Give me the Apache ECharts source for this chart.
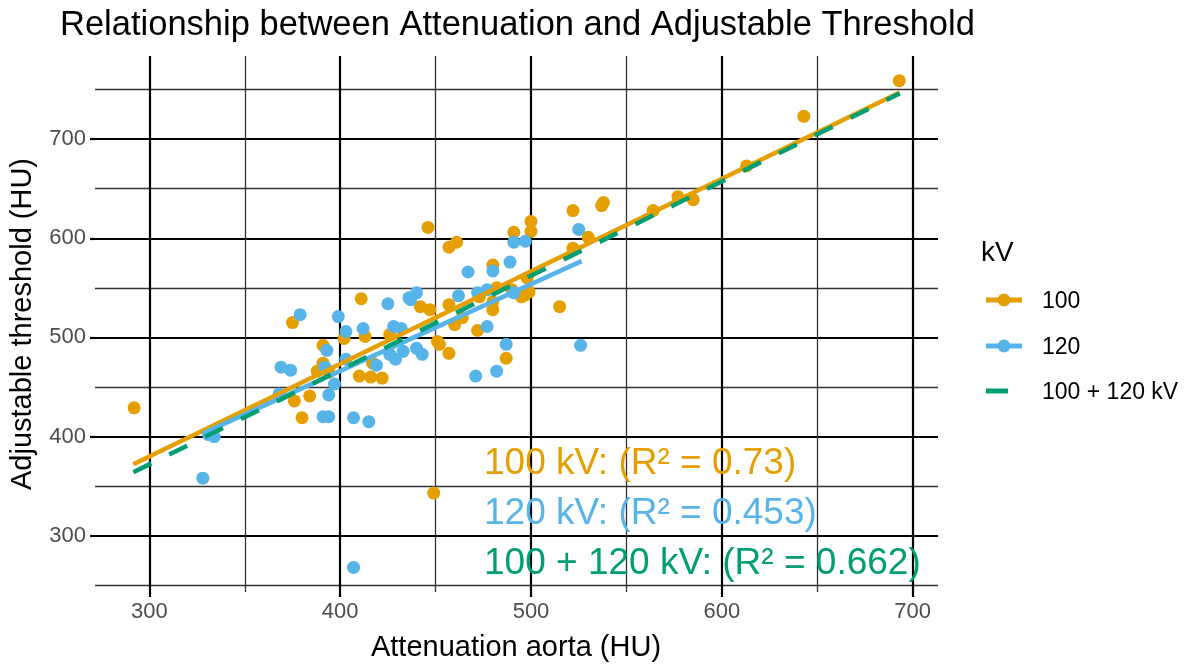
<!DOCTYPE html>
<html>
<head>
<meta charset="utf-8">
<script src="https://cdn.jsdelivr.net/npm/echarts@6/dist/echarts.min.js"></script>
<style>
  html, body { margin: 0; padding: 0; background: #fff; }
  #chart { width: 1185px; height: 664px; }
</style>
</head>
<body>
<div id="chart"></div>
<script>
// 100 kV points (attenuation aorta, adjustable threshold)
const kv100X = [693, 643, 613, 577, 585, 564, 538, 537, 522, 530, 522, 515, 500, 500, 491, 446, 457, 461, 480, 498,
  497, 499, 490, 495, 482, 480, 480, 473, 457, 447, 442, 464, 460, 472, 451, 452, 457, 449, 487, 411,
  413, 402, 426, 391, 391, 388, 394, 417, 410, 416, 422, 375, 376, 384, 380, 292];
const kv100Y = [759, 723, 673, 642, 639, 628, 636, 633, 628, 601, 590, 531, 617, 607, 606, 611, 591, 596, 573, 560,
  543, 546, 548, 541, 550, 536, 528, 541, 533, 528, 531, 520, 513, 507, 496, 493, 484, 343, 479, 539,
  501, 499, 503, 492, 474, 466, 465, 474, 461, 460, 459, 515, 436, 441, 419, 429];
// 120 kV points
const kv120X = [526, 525, 497, 491, 489, 480, 467, 462, 472, 477, 491, 477, 487, 482, 471, 440, 437, 425, 436, 443,
  440, 433, 429, 426, 428, 432, 412, 403, 399, 379, 393, 403, 392, 419, 397, 369, 374, 368, 394, 391,
  394, 407, 415, 334, 331, 328, 407];
const kv120Y = [492, 609, 597, 596, 576, 567, 566, 542, 545, 548, 545, 511, 493, 466, 461, 545, 538, 534, 540, 483,
  489, 486, 478, 483, 511, 509, 509, 506, 521, 523, 487, 478, 470, 472, 453, 470, 467, 443, 442, 420,
  420, 419, 415, 400, 402, 358, 268];
// fitted lines (end points)
const fit100X = [291.6, 693.2], fit100Y = [372, 747];
const fit120X = [327.8, 526.5], fit120Y = [403, 577];
const fitAllX = [291.6, 693.2], fitAllY = [364, 746];

const xMajor = [300, 400, 500, 600, 700];
const xMinor = [350, 450, 550, 650];
const yMajor = [300, 400, 500, 600, 700];
const yMinor = [250, 350, 450, 550, 650, 750];

const rLabels = ['100 kV: (R² = 0.73)', '120 kV: (R² = 0.453)', '100 + 120 kV: (R² = 0.662)'];
const legendNames = ['100', '120', '100 + 120 kV'];

const X_MIN = 271.5, X_MAX = 713.3, Y_MIN = 243.2, Y_MAX = 783.9;
const ORANGE = '#E69F00', BLUE = '#56B4E9', GREEN = '#009E73';
const FONT = 'Liberation Sans, Arial, sans-serif';

const zip = (xs, ys) => xs.map((x, i) => [x, ys[i]]);

const chart = echarts.init(document.getElementById('chart'), null, { renderer: 'canvas' });

const majorGrid = { show: true, lineStyle: { color: '#000', width: 2.2 } };
const minorGrid = { show: true, lineStyle: { color: '#333', width: 1.3 } };

const option = {
  animation: false,
  backgroundColor: '#fff',
  grid: { left: 95, right: 247, top: 56, bottom: 72 },
  xAxis: [
    {
      type: 'value', min: X_MIN, max: X_MAX, position: 'bottom',
      axisLine: { show: false },
      axisTick: { show: true, customValues: xMajor, length: 5, lineStyle: { color: '#000', width: 2.2 } },
      axisLabel: { customValues: xMajor, color: '#4d4d4d', fontSize: 22, fontFamily: FONT, margin: 9 },
      splitLine: majorGrid
    },
    {
      type: 'value', min: X_MIN, max: X_MAX, position: 'top',
      axisLine: { show: false },
      axisTick: { show: false, customValues: xMinor },
      axisLabel: { show: false, customValues: xMinor },
      splitLine: minorGrid
    }
  ],
  yAxis: [
    {
      type: 'value', min: Y_MIN, max: Y_MAX, position: 'left',
      axisLine: { show: false },
      axisTick: { show: true, customValues: yMajor, length: 5, lineStyle: { color: '#000', width: 2.2 } },
      axisLabel: { customValues: yMajor, color: '#4d4d4d', fontSize: 22, fontFamily: FONT, margin: 9 },
      splitLine: majorGrid
    },
    {
      type: 'value', min: Y_MIN, max: Y_MAX, position: 'right',
      axisLine: { show: false },
      axisTick: { show: false, customValues: yMinor },
      axisLabel: { show: false, customValues: yMinor },
      splitLine: minorGrid
    }
  ],
  series: [
    {
      name: '100', type: 'scatter', data: zip(kv100X, kv100Y),
      symbolSize: 13, itemStyle: { color: ORANGE, opacity: 1 }
    },
    {
      name: '120', type: 'scatter', data: zip(kv120X, kv120Y),
      symbolSize: 13, itemStyle: { color: BLUE, opacity: 1 }
    },
    {
      type: 'line', data: zip(fit100X, fit100Y), showSymbol: false,
      lineStyle: { color: ORANGE, width: 4.5 }
    },
    {
      type: 'line', data: zip(fit120X, fit120Y), showSymbol: false,
      lineStyle: { color: BLUE, width: 4.5 }
    },
    {
      type: 'line', data: zip(fitAllX, fitAllY), showSymbol: false,
      lineStyle: { color: GREEN, width: 4.5, type: [20, 20] }
    }
  ],
  graphic: [
    // title
    { type: 'text', left: 60, top: 8, style: { text: 'Relationship between Attenuation and Adjustable Threshold', font: '34.5px ' + FONT, fill: '#000' } },
    // axis titles
    { type: 'text', x: 516, y: 648, style: { text: 'Attenuation aorta (HU)', font: '29px ' + FONT, fill: '#000', align: 'center', verticalAlign: 'middle' } },
    { type: 'text', x: 23, y: 324, rotation: Math.PI / 2, style: { text: 'Adjustable threshold (HU)', font: '29px ' + FONT, fill: '#000', align: 'center', verticalAlign: 'middle' } },
    // R² annotations
    { type: 'text', x: 484, y: 464, z: 10, style: { text: rLabels[0], font: '37px ' + FONT, fill: ORANGE, verticalAlign: 'middle' } },
    { type: 'text', x: 484, y: 514, z: 10, style: { text: rLabels[1], font: '37px ' + FONT, fill: BLUE, verticalAlign: 'middle' } },
    { type: 'text', x: 484, y: 564, z: 10, style: { text: rLabels[2], font: '37px ' + FONT, fill: GREEN, verticalAlign: 'middle' } },
    // legend
    { type: 'text', x: 981, y: 253, style: { text: 'kV', font: '28px ' + FONT, fill: '#000', verticalAlign: 'middle' } },
    { type: 'line', shape: { x1: 986, y1: 300, x2: 1022, y2: 300 }, style: { stroke: ORANGE, lineWidth: 5 } },
    { type: 'circle', shape: { cx: 1004, cy: 300, r: 6.5 }, style: { fill: ORANGE } },
    { type: 'text', x: 1042, y: 302, style: { text: legendNames[0], font: '23px ' + FONT, fill: '#000', verticalAlign: 'middle' } },
    { type: 'line', shape: { x1: 986, y1: 346, x2: 1022, y2: 346 }, style: { stroke: BLUE, lineWidth: 5 } },
    { type: 'circle', shape: { cx: 1004, cy: 346, r: 6.5 }, style: { fill: BLUE } },
    { type: 'text', x: 1042, y: 348, style: { text: legendNames[1], font: '23px ' + FONT, fill: '#000', verticalAlign: 'middle' } },
    { type: 'line', shape: { x1: 986, y1: 391, x2: 1008, y2: 391 }, style: { stroke: GREEN, lineWidth: 5 } },
    { type: 'text', x: 1042, y: 393, style: { text: legendNames[2], font: '23px ' + FONT, fill: '#000', verticalAlign: 'middle' } }
  ]
};

chart.setOption(option);
</script>
</body>
</html>
